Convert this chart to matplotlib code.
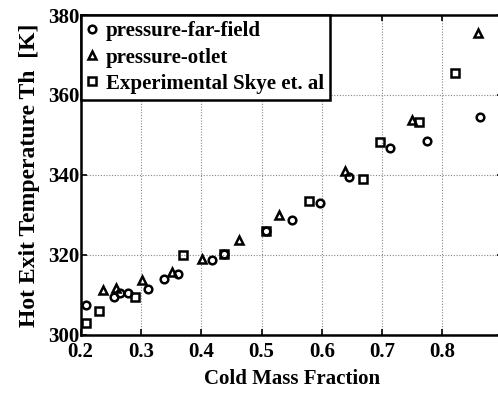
import matplotlib
matplotlib.use("Agg")
import matplotlib.pyplot as plt

x_far = [0.208, 0.256, 0.266, 0.279, 0.312, 0.338, 0.362, 0.417, 0.437, 0.507,
         0.551, 0.597, 0.645, 0.713, 0.775, 0.862]
y_far = [307.5, 309.6, 310.4, 310.4, 311.4, 314.0, 315.2, 318.75, 320.2, 326.0,
         328.75, 333.1, 339.6, 346.8, 348.6, 354.6]

x_out = [0.237, 0.259, 0.301, 0.351, 0.401, 0.463, 0.529, 0.638, 0.749, 0.859]
y_out = [311.2, 311.8, 313.75, 315.7, 318.9, 323.75, 330.0, 341.0, 353.75, 375.4]

x_exp = [0.208, 0.230, 0.290, 0.369, 0.437, 0.507, 0.579, 0.669, 0.697, 0.761, 0.821]
y_exp = [303.1, 306.0, 309.6, 320.0, 320.2, 326.0, 333.5, 338.9, 348.25, 353.3, 365.4]

labels = ["pressure-far-field", "pressure-otlet", "Experimental Skye et. al"]
xticks = [0.2, 0.3, 0.4, 0.5, 0.6, 0.7, 0.8]
yticks = [300, 320, 340, 360, 380]

plt.rcParams['font.family'] = ['Liberation Serif', 'DejaVu Serif']
plt.rcParams['font.weight'] = 'bold'

fig = plt.figure(figsize=(4.98, 3.95), dpi=100)
ax = fig.add_axes([0.162, 0.152, 0.8476, 0.810])

mk = dict(linestyle='none', markerfacecolor='none', markeredgecolor='black',
          markeredgewidth=1.8, markersize=5.5)
ax.plot(x_far, y_far, marker='o', label=labels[0], **mk)
ax.plot(x_out, y_out, marker='^', label=labels[1], **mk)
ax.plot(x_exp, y_exp, marker='s', label=labels[2], **mk)

ax.set_xlim(0.2, 0.9)
ax.set_ylim(300, 380)
ax.set_xticks(xticks)
ax.set_xticklabels([f"{t:.1f}" for t in xticks])
ax.set_yticks(yticks)
ax.grid(True, color='#888888', linestyle=(0, (1, 1.5)), linewidth=0.8)
for s in ax.spines.values():
    s.set_linewidth(1.8)
ax.tick_params(direction='in', top=True, right=True, length=4, width=1.2,
               labelsize=15)
ax.tick_params(axis='x', pad=5)
ax.tick_params(axis='y', pad=1)
for lab in ax.get_xticklabels() + ax.get_yticklabels():
    lab.set_fontweight('bold')

ax.set_xlabel("Cold Mass Fraction", fontsize=15, fontweight='bold', labelpad=5)
ax.set_ylabel("Hot Exit Temperature Th  [K]", fontsize=17, fontweight='bold', labelpad=6)

leg = ax.legend(loc='upper left', fancybox=False, framealpha=1, edgecolor='black',
                prop={'size': 15, 'weight': 'bold'}, borderaxespad=0,
                handlelength=0.5, handletextpad=0.4, borderpad=0.3, labelspacing=0.3)
leg.get_frame().set_linewidth(1.8)

fig.savefig("out.png", dpi=100)
